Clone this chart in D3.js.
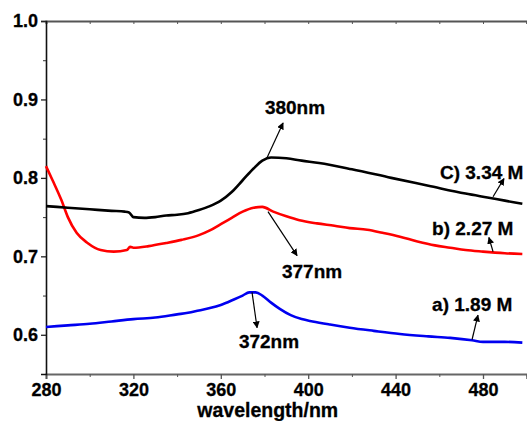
<!DOCTYPE html>
<html>
<head>
<meta charset="utf-8">
<script src="https://cdn.jsdelivr.net/npm/d3@7"></script>
<style>
  body { margin: 0; background: #fff; }
  svg { display: block; font-family: "Liberation Sans", Arial, sans-serif; font-weight: bold; }
  svg text { stroke: #000; stroke-width: 0.3px; }
</style>
</head>
<body>
<div id="wrapper"></div>
<script>
// series a) 1.89 M (blue)
const waveA = [280, 290, 300, 310, 320, 330, 340, 345, 350, 355, 360, 366, 370, 373, 376, 379, 383, 387, 392, 397, 402, 410, 419, 430, 442, 455, 465, 475, 480, 490, 498]
const absA = [0.610, 0.612, 0.614, 0.617, 0.620, 0.622, 0.626, 0.628, 0.631, 0.634, 0.638, 0.645, 0.650, 0.654, 0.654, 0.650, 0.641, 0.633, 0.625, 0.620, 0.617, 0.613, 0.609, 0.605, 0.601, 0.598, 0.596, 0.593, 0.591, 0.591, 0.590]

// series b) 2.27 M (red)
const waveB = [280, 283, 287, 290, 294, 299, 305, 311, 317, 318.5, 320, 327, 335, 342, 350, 355, 360, 365, 370, 375, 379, 384, 390, 396, 404, 412, 419, 427, 434, 442, 450, 458, 465, 472, 480, 490, 498]
const absB = [0.815, 0.797, 0.772, 0.750, 0.730, 0.717, 0.708, 0.706, 0.708, 0.712, 0.711, 0.713, 0.717, 0.721, 0.727, 0.733, 0.741, 0.749, 0.757, 0.762, 0.763, 0.757, 0.751, 0.746, 0.742, 0.739, 0.736, 0.734, 0.730, 0.725, 0.719, 0.714, 0.711, 0.708, 0.706, 0.704, 0.703]

// series C) 3.34 M (black)
const waveC = [280, 290, 300, 310, 316, 318, 320, 325, 330, 335, 340, 345, 350, 355, 360, 365, 370, 375, 379, 383, 390, 397, 405, 420, 438, 455, 472, 482, 490, 498]
const absC = [0.764, 0.762, 0.760, 0.758, 0.757, 0.756, 0.750, 0.749, 0.750, 0.752, 0.753, 0.755, 0.759, 0.764, 0.771, 0.782, 0.797, 0.812, 0.822, 0.826, 0.825, 0.822, 0.819, 0.811, 0.800, 0.790, 0.780, 0.775, 0.771, 0.767]

const xTicks = [280, 320, 360, 400, 440, 480]
const xMinorTicks = [300, 340, 380, 420, 460, 500]
const yTicks = [0.6, 0.7, 0.8, 0.9, 1.0]
const yMinorTicks = [0.65, 0.75, 0.85, 0.95]
const xLabel = "wavelength/nm"

// annotations: text anchor and arrow from -> to, in data units
const labels = [
    {text: "380nm", x: 380.2, y: 0.8815, from: [381.1, 0.8255], to: [388.5, 0.870]},
    {text: "C) 3.34 M", x: 460.3, y: 0.799, from: [484.6, 0.776], to: [489.6, 0.799]},
    {text: "b) 2.27 M", x: 456.7, y: 0.727, from: [484.6, 0.706], to: [482.7, 0.724]},
    {text: "377nm", x: 388.0, y: 0.673, from: [381.6, 0.757], to: [394.9, 0.701]},
    {text: "372nm", x: 368.3, y: 0.583, from: [374.3, 0.654], to: [376.6, 0.609]},
    {text: "a) 1.89 M", x: 456.7, y: 0.6306, from: [475.0, 0.594], to: [477.7, 0.625]},
]

const series = [
    {wave: waveA, abs: absA, color: "#0000f0"},
    {wave: waveB, abs: absB, color: "#ff0000"},
    {wave: waveC, abs: absC, color: "#000000"},
]

function drawChart() {
    const dimensions = {
        width: 527,
        height: 421,
        margin: {top: 21, right: 0, bottom: 47, left: 46},
    }
    dimensions.boundedWidth = 220 * 2.185
    dimensions.boundedHeight = dimensions.height - dimensions.margin.top - dimensions.margin.bottom

    const svg = d3.select("#wrapper").append("svg")
        .attr("width", dimensions.width)
        .attr("height", dimensions.height)

    svg.append("defs").append("marker")
        .attr("id", "head")
        .attr("viewBox", "0 0 10 10")
        .attr("refX", 9).attr("refY", 5)
        .attr("markerWidth", 7).attr("markerHeight", 7)
        .attr("markerUnits", "userSpaceOnUse")
        .attr("orient", "auto")
        .append("path")
        .attr("d", "M0,0 L10,5 L0,10 Z")
        .attr("fill", "#000")

    const bounds = svg.append("g")
        .attr("transform", `translate(${dimensions.margin.left},${dimensions.margin.top})`)

    const xScale = d3.scaleLinear()
        .domain([280, 500])
        .range([0, dimensions.boundedWidth])
    const yScale = d3.scaleLinear()
        .domain([0.55, 1.0])
        .range([dimensions.boundedHeight, 0])

    // top frame with inward ticks
    const topAxis = bounds.append("g")
        .call(d3.axisTop(xScale).tickValues(d3.range(280, 501, 20)).tickSize(-3).tickFormat(""))
    topAxis.select(".domain").attr("stroke", "#555").attr("stroke-width", 2)
    topAxis.selectAll(".tick line").attr("stroke", "#555")

    // bottom axis
    const xAxis = bounds.append("g")
        .attr("transform", `translate(0,${dimensions.boundedHeight})`)
        .call(d3.axisBottom(xScale).tickValues(xTicks).tickSize(5).tickPadding(4).tickFormat(d3.format("d")))
    xAxis.select(".domain").attr("stroke", "#666").attr("stroke-width", 2)
    xAxis.selectAll(".tick line").attr("stroke", "#555").attr("stroke-width", 1.3)
    xAxis.selectAll("text").attr("font-size", 18).attr("font-weight", "bold").attr("fill", "#000")
    bounds.append("g")
        .attr("transform", `translate(0,${dimensions.boundedHeight})`)
        .call(d3.axisBottom(xScale).tickValues(xMinorTicks).tickSize(3).tickFormat(""))
        .call(g => g.select(".domain").remove())
        .selectAll(".tick line").attr("stroke", "#555")

    // left axis
    const yAxis = bounds.append("g")
        .call(d3.axisLeft(yScale).tickValues(yTicks).tickSize(5).tickPadding(3).tickFormat(d3.format(".1f")))
    yAxis.select(".domain").attr("stroke", "#111").attr("stroke-width", 1.6)
    yAxis.selectAll(".tick line").attr("stroke", "#222").attr("stroke-width", 1.3)
    yAxis.selectAll("text").attr("font-size", 18).attr("font-weight", "bold").attr("fill", "#000")
    bounds.append("g")
        .call(d3.axisLeft(yScale).tickValues(yMinorTicks).tickSize(3).tickFormat(""))
        .call(g => g.select(".domain").remove())
        .selectAll(".tick line").attr("stroke", "#333")

    // spectra
    const line = d3.line()
        .x(d => xScale(d[0]))
        .y(d => yScale(d[1]))
        .curve(d3.curveMonotoneX)
    bounds.selectAll(".spectrum")
        .data(series)
        .join("path")
        .attr("class", "spectrum")
        .attr("d", s => line(s.wave.map((w, i) => [w, s.abs[i]])))
        .attr("fill", "none")
        .attr("stroke", s => s.color)
        .attr("stroke-width", 2.6)
        .attr("stroke-linejoin", "round")

    // annotations
    bounds.selectAll(".arrow")
        .data(labels)
        .join("line")
        .attr("class", "arrow")
        .attr("x1", d => xScale(d.from[0]))
        .attr("y1", d => yScale(d.from[1]))
        .attr("x2", d => xScale(d.to[0]))
        .attr("y2", d => yScale(d.to[1]))
        .attr("stroke", "#000")
        .attr("stroke-width", 1.2)
        .attr("marker-end", "url(#head)")
    bounds.selectAll(".note")
        .data(labels)
        .join("text")
        .attr("class", "note")
        .attr("x", d => xScale(d.x))
        .attr("y", d => yScale(d.y))
        .attr("font-size", 19)
        .attr("fill", "#000")
        .text(d => d.text)

    svg.append("text")
        .attr("x", dimensions.margin.left + xScale(381.5))
        .attr("y", 416.5)
        .attr("text-anchor", "middle")
        .attr("font-size", 19.5)
        .attr("fill", "#000")
        .text(xLabel)
}

drawChart()
</script>
</body>
</html>
